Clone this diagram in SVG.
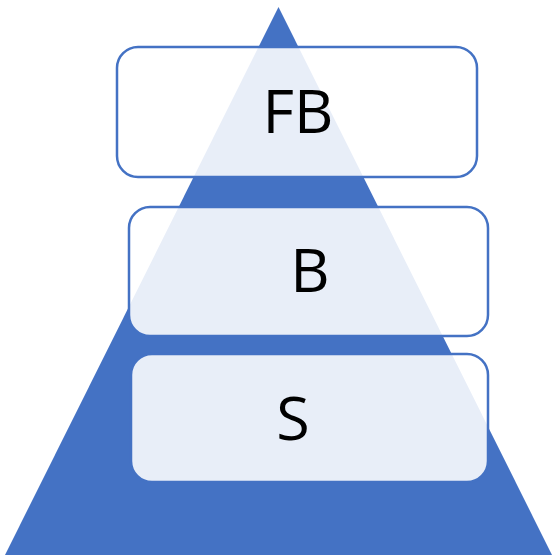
<svg xmlns="http://www.w3.org/2000/svg" width="552" height="557" viewBox="0 0 552 557">
  <style>
    .tri { fill: #4472C4; }
    .box { fill: #FFFFFF; fill-opacity: 0.88; stroke: #4472C4; stroke-width: 2.5; }
    .lbl { font-family: "Open Sans", "Noto Sans", "Liberation Sans", sans-serif; font-size: 61px; fill: #000000; text-anchor: middle; }
  </style>
  <rect width="552" height="557" fill="#FFFFFF"/>
  <g id="pyramid">
    <polygon class="tri" points="278.5,7 5,555 552,555"/>
  </g>
  <g id="connectors"></g>
  <g id="node-fb">
    <rect class="box" x="117" y="47" width="360" height="130" rx="21" ry="21"/>
    <text class="lbl" x="298" y="133">FB</text>
  </g>
  <g id="node-b">
    <rect class="box" x="129" y="207" width="359" height="129" rx="21" ry="21"/>
    <text class="lbl" x="310" y="292">B</text>
  </g>
  <g id="node-s">
    <rect class="box" x="131" y="354" width="357" height="128" rx="21" ry="21"/>
    <text class="lbl" x="293" y="440">S</text>
  </g>
</svg>
